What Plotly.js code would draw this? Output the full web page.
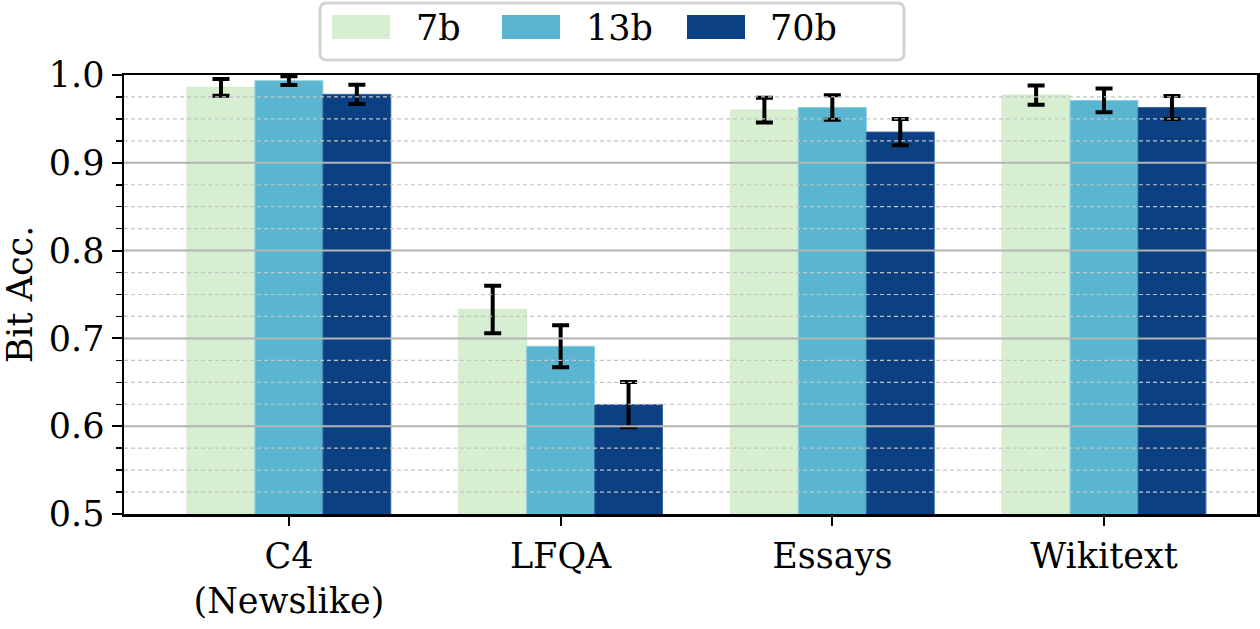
<!DOCTYPE html>
<html>
<head>
<meta charset="utf-8">
<script src="https://cdn.plot.ly/plotly-3.0.1.min.js"></script>
<style>html,body{margin:0;padding:0;background:#fff;}#chart{width:1260px;height:629px;}</style>
</head>
<body>
<div id="chart"></div>
<script>
const categories = ["C4<br>(Newslike)", "LFQA", "Essays", "Wikitext"];
const seriesNames = ["7b", "13b", "70b"];
const acc7b = [0.986, 0.733, 0.960, 0.977];
const acc13b = [0.9935, 0.691, 0.963, 0.971];
const acc70b = [0.978, 0.6245, 0.935, 0.963];
const err7b = [0.0095, 0.027, 0.014, 0.011];
const err13b = [0.005, 0.024, 0.014, 0.0135];
const err70b = [0.011, 0.0257, 0.015, 0.013];
const yTicks = [0.5, 0.6, 0.7, 0.8, 0.9, 1.0];
const yTickText = ["0.5", "0.6", "0.7", "0.8", "0.9", "1.0"];

const colors = ["#d6efd0", "#5ab6d0", "#0b4083"];
const edges = ["#cfe8c8", "#8dcde0", "#3a669c"];
const values = [acc7b, acc13b, acc70b];
const errs = [err7b, err13b, err70b];
const FONT = "DejaVu Serif";
const FS = 35;

const traces = seriesNames.map((n, i) => ({
  type: "bar", name: n, x: categories, y: values[i],
  marker: {color: colors[i], line: {color: edges[i], width: 1}},
  error_y: {type: "data", array: errs[i], visible: true, color: "#000", thickness: 4, width: 8.5},
  showlegend: false
}));

const L = 124, R = 3, T = 75, B = 115, W = 1260, H = 629;
const pw = W - L - R, ph = H - T - B;
const px = x => (x - L) / pw;
const py = y => (H - B - y) / ph;

const shapes = [];
for (let k = 1; k < 20; k++) {
  const v = 0.5 + k * 0.025;
  const isMajor = k % 4 === 0;
  shapes.push({
    type: "line", xref: "paper", yref: "y", x0: 0, x1: 1, y0: v, y1: v, layer: "above",
    line: isMajor ? {color: "#b3b3b3", width: 2} : {color: "#c4c4c4", width: 1.2, dash: "4px,3px"}
  });
}
const lx0 = 320, lx1 = 904, ly0 = 3, ly1 = 60, r = 7;
const rx = r / pw, ry = r / ph;
const X0 = px(lx0), X1 = px(lx1), Y0 = py(ly1), Y1 = py(ly0);
shapes.push({
  type: "path", xref: "paper", yref: "paper", layer: "above",
  path: `M ${X0+rx},${Y0} L ${X1-rx},${Y0} Q ${X1},${Y0} ${X1},${Y0+ry} L ${X1},${Y1-ry} Q ${X1},${Y1} ${X1-rx},${Y1} L ${X0+rx},${Y1} Q ${X0},${Y1} ${X0},${Y1-ry} L ${X0},${Y0+ry} Q ${X0},${Y0} ${X0+rx},${Y0} Z`,
  fillcolor: "rgba(255,255,255,0.9)", line: {color: "#d3d3d3", width: 3}
});
const swX = [332, 502, 687];
const txX = [414, 584, 768];
const annotations = [];
seriesNames.forEach((n, i) => {
  shapes.push({type: "rect", xref: "paper", yref: "paper", layer: "above",
    x0: px(swX[i]), x1: px(swX[i] + 58), y0: py(39), y1: py(15),
    fillcolor: colors[i], line: {width: 0}});
  annotations.push({xref: "paper", yref: "paper", x: px(txX[i]), y: py(28), xanchor: "left", yanchor: "middle",
    text: n, showarrow: false, font: {family: FONT, size: FS, color: "#000"}});
});

const layout = {
  width: W, height: H,
  margin: {l: L, r: R, t: T, b: B, pad: 0},
  paper_bgcolor: "#fff", plot_bgcolor: "#fff",
  barmode: "group", bargap: 0.25, bargroupgap: 0,
  font: {family: FONT, size: FS, color: "#000"},
  showlegend: false,
  xaxis: {
    range: [-0.607, 3.563], showgrid: false, zeroline: false,
    showline: true, mirror: true, linecolor: "#000", linewidth: 2.5,
    ticks: "outside", ticklen: 9, tickwidth: 2, tickcolor: "#000",
    tickfont: {family: FONT, size: FS, color: "#000"}
  },
  yaxis: {
    range: [0.5, 1.0], tickvals: yTicks, ticktext: yTickText,
    showgrid: false, zeroline: false,
    showline: true, mirror: true, linecolor: "#000", linewidth: 2.5,
    ticks: "outside", ticklen: 10, tickwidth: 2, tickcolor: "#000",
    minor: {dtick: 0.025, tick0: 0.5, ticks: "outside", ticklen: 6, tickwidth: 1.5, tickcolor: "#000", showgrid: false},
    tickfont: {family: FONT, size: FS, color: "#000"},
    title: {text: "Bit Acc.", font: {family: FONT, size: FS, color: "#000"}, standoff: 10}
  },
  shapes: shapes,
  annotations: annotations
};

Plotly.newPlot("chart", traces, layout, {displayModeBar: false, staticPlot: true});
</script>
</body>
</html>
